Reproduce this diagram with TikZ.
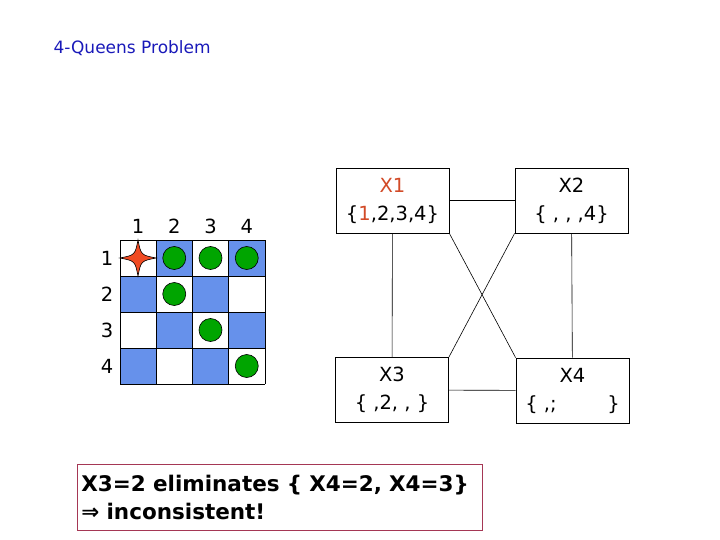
\documentclass[tikz,border=0pt]{standalone}
\usepackage{fontspec}
\setmainfont{DejaVu Sans}
\usetikzlibrary{positioning}

\definecolor{sqblue}{RGB}{102,145,235}
\definecolor{qgreen}{RGB}{0,165,0}
\definecolor{starred}{RGB}{240,75,35}
\definecolor{titleblue}{RGB}{25,25,185}
\definecolor{xred}{RGB}{210,75,40}
\definecolor{boxrim}{RGB}{165,55,85}

\begin{document}
\begin{tikzpicture}[x=1pt,y=-1pt,
  varbox/.style={draw,line width=0.8pt,minimum width=113pt,minimum height=65pt,
    inner sep=0pt,align=center,font=\fontsize{19.5}{28}\selectfont},
  lbl/.style={font=\fontsize{19.5}{20}\selectfont,inner sep=0pt},
  link/.style={line width=0.6pt}]
\useasboundingbox (0,0) rectangle (720,540);
% titre
\node[anchor=base west,text=titleblue,font=\fontsize{17}{20}\selectfont] (title) at (50,54) {4-Queens Problem};
% echiquier
\foreach \r in {1,...,4}{
  \foreach \c in {1,...,4}{
    \pgfmathtruncatemacro{\odd}{mod(\r+\c,2)}
    \ifnum\odd=1
      \fill[sqblue] ({120+(\c-1)*36.25},{240+(\r-1)*36}) rectangle ++(36.25,36);
    \fi
  }
}
\foreach \i in {0,...,4}{
  \draw[line width=0.9pt] ({120+\i*36.25},240) -- ({120+\i*36.25},384);
  \draw[line width=0.9pt] (120,{240+\i*36}) -- (265,{240+\i*36});
}
\foreach \c in {1,...,4}
  \node[lbl] (col\c) at ({138+(\c-1)*36.25},226) {\c};
\foreach \r in {1,...,4}
  \node[lbl] (row\r) at (107,{258+(\r-1)*36}) {\r};
% reines
\foreach \r/\c in {1/2,1/3,1/4,2/2,3/3,4/4}
  \draw[fill=qgreen,line width=0.6pt] ({138+(\c-1)*36.25},{258+(\r-1)*36}) circle (11.5);
\draw[fill=starred,line width=0.6pt,shift={(138,258)}]
  (-18,0) .. controls (-3,-3) .. (0,-18) .. controls (3,-3) .. (18,0)
  .. controls (3,3) .. (0,18) .. controls (-3,3) .. cycle;
% variables
\node[varbox] (X1) at (392.5,200.5) {\textcolor{xred}{X1}\\\{\textcolor{xred}{1},2,3,4\}};
\node[varbox] (X2) at (571.5,200.5) {X2\\\{ , , ,4\}};
\node[varbox] (X3) at (392,390) {X3\\\{ ,2, , \}};
\node[varbox] (X4) at (572.5,390.5) {X4\\\{ ,;\hspace{2.6em}\}};
\draw[link] (X1) -- (X2);
\draw[link] (X3) -- (X4);
\draw[link] (X1) -- (X3);
\draw[link] (X2) -- (X4);
\draw[link] (X1.south east) -- (X4.north west);
\draw[link] (X2.south west) -- (X3.north east);
% remarque
\node[draw=boxrim,line width=0.8pt,text width=397pt,minimum height=66pt,
  inner xsep=4pt,anchor=north west,align=left,
  font=\bfseries\fontsize{21.5}{28}\selectfont] (note) at (77,464)
  {X3=2 eliminates \{ X4=2, X4=3\}\\⇒ inconsistent!};
\end{tikzpicture}
\end{document}
